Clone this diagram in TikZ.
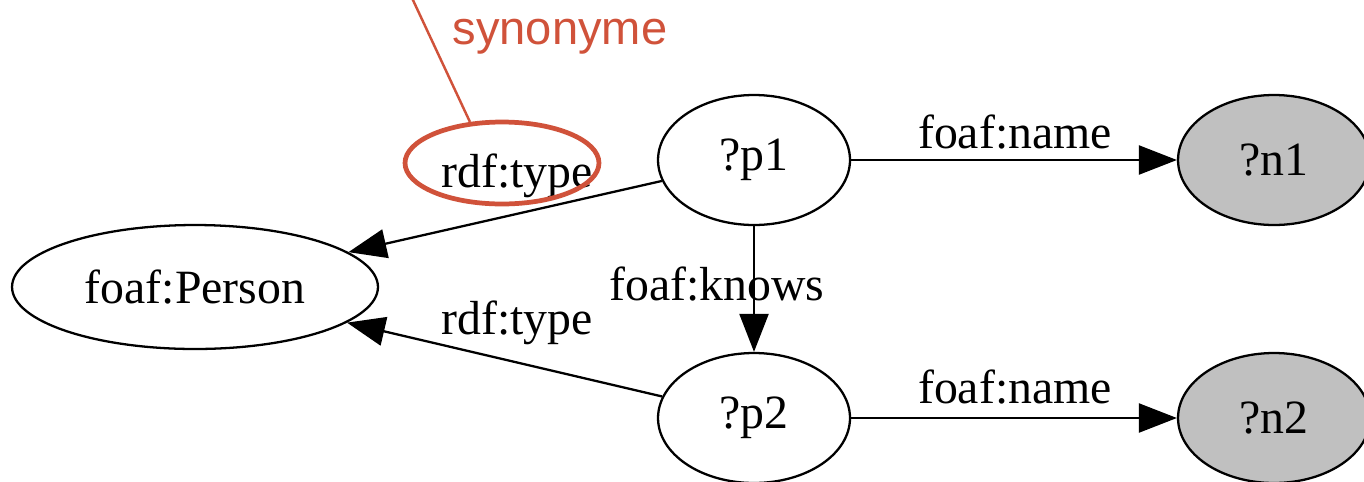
\documentclass[tikz,border=0pt]{standalone}
\usepackage{fontspec}
\setmainfont{Liberation Serif}
\newfontfamily\notefont{Liberation Sans}
\usetikzlibrary{positioning,arrows.meta,shapes.geometric}
\definecolor{qline}{HTML}{000000}
\definecolor{qfillvar}{HTML}{C0C0C0}
\definecolor{qnote}{HTML}{D0523A}
\newcommand{\gvfont}{\fontsize{27.2}{32}\selectfont}
\tikzset{qnode/.style={ellipse, draw=qline, line width=1.3pt, minimum width=3.84cm, minimum height=2.6cm, inner sep=0pt, font=\gvfont}}
\tikzset{qclass/.style={qnode, minimum width=7.32cm, minimum height=2.48cm}}
\tikzset{qlit/.style={qnode, fill=qfillvar}}
\tikzset{qedge/.style={-{Triangle[length=7.6mm, width=5.8mm]}, draw=qline, line width=1.3pt}}
\tikzset{qlabel/.style={font=\gvfont, inner sep=0pt, anchor=base}}
\tikzset{qring/.style={ellipse, draw=qnote, line width=2.7pt, minimum width=3.88cm, minimum height=1.64cm, inner sep=0pt}}
\tikzset{qpointer/.style={draw=qnote, line width=1.4pt}}
\tikzset{qnotetext/.style={font=\notefont\fontsize{26.8}{32}\selectfont, text=qnote, inner sep=0pt, anchor=base}}

\begin{document}
\begin{tikzpicture}[x=0.02cm, y=-0.02cm]
  \useasboundingbox (0,0) rectangle (1364,481);

  \node[qclass] (person) at (195,287) {foaf:Person};
  \node[qnode] (p1) at (754,160) {?p1};
  \node[qnode] (p2) at (754,418) {?p2};
  \node[qlit] (n1) at (1274,160) {?n1};
  \node[qlit] (n2) at (1274,418) {?n2};

  \draw[qedge] (p1) -- (n1);
  \draw[qedge] (p2) -- (n2);
  \draw[qedge] (p1) -- (p2);
  \draw[qedge] (p1) -- (person);
  \draw[qedge] (p2) -- (person);

  \node[qlabel] (lname1) at (1015,148) {foaf:name};
  \node[qlabel] (lname2) at (1015,403) {foaf:name};
  \node[qlabel] (lknows) at (717,300) {foaf:knows};
  \node[qlabel] (ltype1) at (517,187) {rdf:type};
  \node[qlabel] (ltype2) at (517,334) {rdf:type};

  % annotation
  \node[qring] (synring) at (502,163) {};
  \coordinate (synTop) at (405,-17);
  \draw[qpointer] (synring.128) -- (synTop);
  \node[qnotetext] (synlabel) at (560,44) {synonyme};
\end{tikzpicture}
\end{document}
